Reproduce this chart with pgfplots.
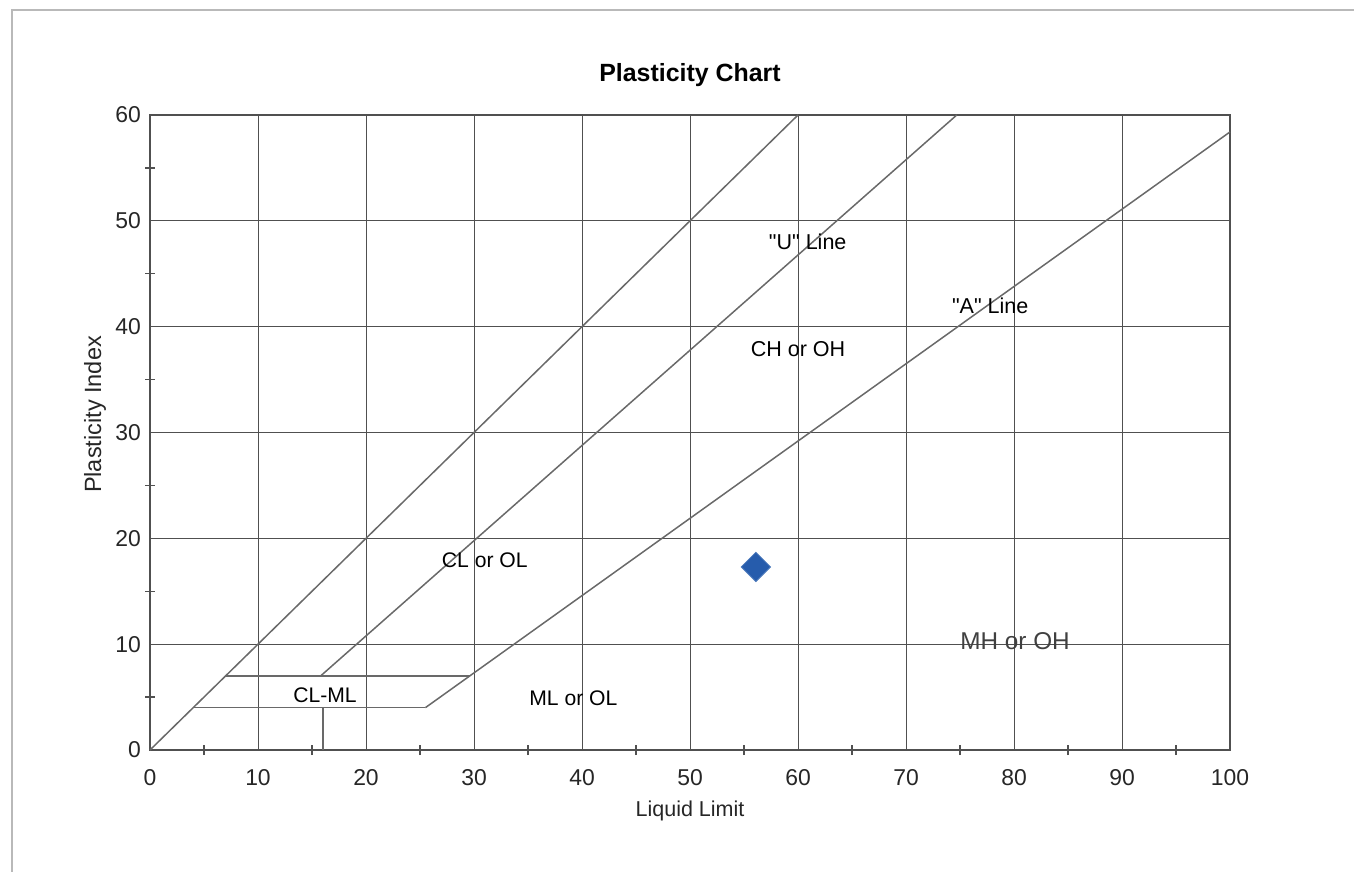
\documentclass[border=0pt]{standalone}
\usepackage{fontspec}
\setmainfont{Liberation Sans}
\usepackage{pgfplots}
\pgfplotsset{compat=1.18}
\definecolor{gridc}{RGB}{80,80,80}
\definecolor{linec}{RGB}{105,105,105}
\definecolor{ptblue}{RGB}{38,92,172}
\begin{document}
\begin{tikzpicture}
\path[use as bounding box] (-75bp,-61bp) rectangle (602bp,375bp);
\draw[gray!55, line width=0.7bp] (-69bp,-80bp) rectangle (620bp,370bp);
\begin{axis}[
  at={(0,0)}, anchor=south west,
  scale only axis, width=540bp, height=317.5bp,
  xmin=0, xmax=100, ymin=0, ymax=60,
  xtick={0,10,...,100}, ytick={0,10,...,60},
  minor xtick={5,15,...,95}, minor ytick={5,15,...,55},
  tick pos=left,
  grid=major, major grid style={gridc, line width=0.5bp},
  axis line style={gridc, line width=0.6bp},
  tick style={gridc, line width=0.6bp},
  tick align=center, major tick length=0pt, minor tick length=5bp,
  tick label style={font=\fontsize{11.5}{13}\selectfont, text=black!85},
  /pgf/number format/assume math mode=true,
  xticklabel style={yshift=-6bp},
  yticklabel style={xshift=-1bp},
  every axis x label/.style={at={(rel axis cs:0.5,0)}, yshift=-30.5bp, anchor=center},
  every axis y label/.style={at={(rel axis cs:0,0.5)}, xshift=-27.5bp, yshift=9bp, anchor=center, rotate=90},
  xlabel style={font=\fontsize{10.8}{12}\selectfont, text=black!85},
  ylabel style={font=\fontsize{11.8}{13}\selectfont, text=black!85},
  xlabel={Liquid Limit}, ylabel={Plasticity Index},
  clip=false,
]
% PI = LL boundary
\addplot[linec, line width=0.75bp] coordinates {(0,0) (60,60)};
% "U" line
\addplot[linec, line width=0.75bp] coordinates {(15.8,7) (74.7,60)};
% "A" line
\addplot[linec, line width=0.75bp] coordinates {(25.5,4) (100,58.4)};
% CL-ML zone
\addplot[linec, line width=0.75bp] coordinates {(7,7) (29.6,7)};
\addplot[linec, line width=0.75bp] coordinates {(4,4) (25.5,4)};
\addplot[linec, line width=0.75bp] coordinates {(16,0) (16,4)};
% sample point
\addplot[only marks, mark=square*, mark size=5.2bp, mark options={rotate=45, fill=ptblue, draw=ptblue!80!white}] coordinates {(56.1,17.3)};

\node[font=\fontsize{10.8}{12}\selectfont] at (axis cs:60.9,48.0) {\textquotedbl U\textquotedbl\ Line};
\node[font=\fontsize{10.8}{12}\selectfont] at (axis cs:77.8,42.0) {\textquotedbl A\textquotedbl\ Line};
\node[font=\fontsize{10.8}{12}\selectfont] at (axis cs:60.0,37.9) {CH or OH};
\node[font=\fontsize{10.6}{12}\selectfont] at (axis cs:31.0,17.9) {CL or OL};
\node[font=\fontsize{10.6}{12}\selectfont] at (axis cs:16.2,5.2) {CL-ML};
\node[font=\fontsize{10.6}{12}\selectfont] at (axis cs:39.2,4.9) {ML or OL};
\node[font=\fontsize{12.2}{14}\selectfont, text=black!75] at (axis cs:80.1,10.3) {MH or OH};
\node[font=\bfseries\fontsize{12.5}{14}\selectfont] at ([yshift=20bp]rel axis cs:0.5,1) {Plasticity Chart};
\end{axis}
\end{tikzpicture}
\end{document}
